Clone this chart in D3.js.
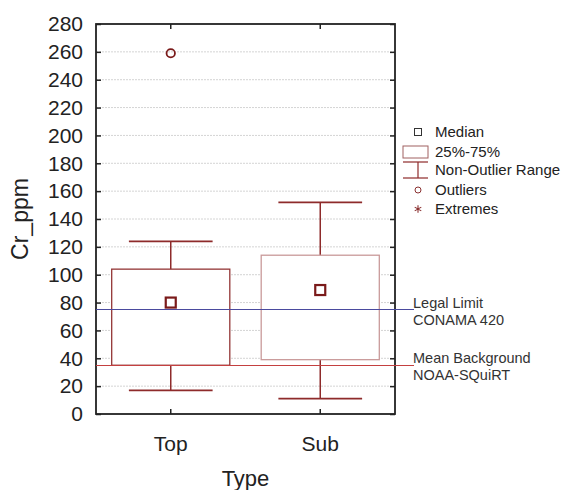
<!DOCTYPE html>
<html>
<head>
<meta charset="utf-8">
<script src="https://cdn.jsdelivr.net/npm/d3@7"></script>
<style>
  body { margin: 0; background: #fff; }
  text { font-family: "Liberation Sans", Arial, sans-serif; }
</style>
</head>
<body>
<script>
// box summary per category
var categories = ["Top", "Sub"];
var q1 = [35, 39];
var q3 = [104, 114];
var medians = [80, 89];
var whiskerLow = [17, 11];
var whiskerHigh = [124, 152];
var outliers = [[259], []];

// reference lines
var refValues = [75, 35];
var refLabels = [["Legal Limit", "CONAMA 420"], ["Mean Background", "NOAA-SQuiRT"]];
var refColors = ["#4a4a9e", "#c44040"];

var yTicks = [0, 20, 40, 60, 80, 100, 120, 140, 160, 180, 200, 220, 240, 260, 280];
var legendLabels = ["Median", "25%-75%", "Non-Outlier Range", "Outliers", "Extremes"];

var W = 574, H = 490;
// note: "top" is a reserved window prop, so plot edges get a p prefix
var pLeft = 96, pRight = 395, pTop = 24, pBottom = 414;
var dark = "#7a1a1a", red = "#8e2b2b";

var svg = d3.select("body").append("svg")
    .attr("width", W)
    .attr("height", H);

var x = d3.scaleBand().domain(categories).range([pLeft, pRight]);
var y = d3.scaleLinear().domain([0, 280]).range([pBottom, pTop]);

// grid
svg.append("g")
    .selectAll("line")
    .data(yTicks.filter(function(d) { return d > 0 && d < 280; }))
    .enter().append("line")
    .attr("x1", pLeft).attr("x2", pRight)
    .attr("y1", function(d) { return y(d); })
    .attr("y2", function(d) { return y(d); })
    .attr("stroke", "#d4d4d4")
    .attr("stroke-width", 1)
    .attr("stroke-dasharray", "2,1");

// axes (ticks inside)
var yAxisL = d3.axisLeft(y).tickValues(yTicks).tickSize(-5).tickPadding(13);
var gl = svg.append("g").attr("transform", "translate(" + pLeft + ",0)").call(yAxisL);
gl.select(".domain").remove();
gl.selectAll("text").style("font-size", "21px").attr("fill", "#222");

var gr = svg.append("g").attr("transform", "translate(" + pRight + ",0)")
    .call(d3.axisRight(y).tickValues(yTicks).tickSize(-5).tickFormat(""));
gr.select(".domain").remove();

var xAxis = d3.axisBottom(x).tickSize(-5).tickPadding(22);
var gb = svg.append("g").attr("transform", "translate(0," + pBottom + ")").call(xAxis);
gb.select(".domain").remove();
gb.selectAll("text").style("font-size", "21px").attr("fill", "#222");

var gt = svg.append("g").attr("transform", "translate(0," + pTop + ")")
    .call(d3.axisTop(x).tickSize(-5).tickFormat(""));
gt.select(".domain").remove();

svg.selectAll(".tick line").attr("stroke", "#222").attr("stroke-width", 1.5);

svg.append("rect")
    .attr("x", pLeft).attr("y", pTop)
    .attr("width", pRight - pLeft).attr("height", pBottom - pTop)
    .attr("fill", "none")
    .attr("stroke", "#222")
    .attr("stroke-width", 1.8);

// axis titles
svg.append("text")
    .attr("transform", "translate(28," + ((pTop + pBottom) / 2) + ") rotate(-90)")
    .attr("text-anchor", "middle")
    .style("font-size", "23px")
    .attr("fill", "#222")
    .text("Cr_ppm");

svg.append("text")
    .attr("x", (pLeft + pRight) / 2).attr("y", 486)
    .attr("text-anchor", "middle")
    .style("font-size", "22px")
    .attr("fill", "#222")
    .text("Type");

// boxes
var boxW = x.bandwidth() * 0.79;
var capW = x.bandwidth() * 0.56;
var boxes = svg.append("g").selectAll("g")
    .data(categories)
    .enter().append("g");

boxes.append("line")
    .attr("x1", function(d) { return x(d) + x.bandwidth() / 2; })
    .attr("x2", function(d) { return x(d) + x.bandwidth() / 2; })
    .attr("y1", function(d, i) { return y(whiskerLow[i]); })
    .attr("y2", function(d, i) { return y(whiskerHigh[i]); })
    .attr("stroke", red).attr("stroke-width", 1.5);

[whiskerLow, whiskerHigh].forEach(function(arr) {
    boxes.append("line")
        .attr("x1", function(d) { return x(d) + (x.bandwidth() - capW) / 2; })
        .attr("x2", function(d) { return x(d) + (x.bandwidth() + capW) / 2; })
        .attr("y1", function(d, i) { return y(arr[i]); })
        .attr("y2", function(d, i) { return y(arr[i]); })
        .attr("stroke", red).attr("stroke-width", 1.8);
});

boxes.append("rect")
    .attr("x", function(d) { return x(d) + (x.bandwidth() - boxW) / 2; })
    .attr("y", function(d, i) { return y(q3[i]); })
    .attr("width", boxW)
    .attr("height", function(d, i) { return y(q1[i]) - y(q3[i]); })
    .attr("fill", "#fff")
    .attr("stroke", function(d, i) { return i == 0 ? "#933535" : "#c99a9a"; })
    .attr("stroke-width", 1.3);

// reference lines over the boxes
refValues.forEach(function(v, i) {
    svg.append("line")
        .attr("x1", pLeft).attr("x2", 414)
        .attr("y1", y(v)).attr("y2", y(v))
        .attr("stroke", refColors[i]).attr("stroke-width", 1)
        .attr("shape-rendering", "crispEdges");
    svg.append("text")
        .attr("x", 413).attr("y", y(v) - 2)
        .style("font-size", "14.5px").attr("fill", "#333")
        .text(refLabels[i][0]);
    svg.append("text")
        .attr("x", 413).attr("y", y(v) + 15)
        .style("font-size", "14.5px").attr("fill", "#333")
        .text(refLabels[i][1]);
});

boxes.append("rect")
    .attr("x", function(d) { return x(d) + x.bandwidth() / 2 - 5; })
    .attr("y", function(d, i) { return y(medians[i]) - 5; })
    .attr("width", 10).attr("height", 10)
    .attr("fill", "none")
    .attr("stroke", dark).attr("stroke-width", 2.2);

boxes.each(function(d, i) {
    d3.select(this).selectAll("circle")
        .data(outliers[i])
        .enter().append("circle")
        .attr("cx", x(d) + x.bandwidth() / 2)
        .attr("cy", function(v) { return y(v); })
        .attr("r", 4.2)
        .attr("fill", "none")
        .attr("stroke", dark).attr("stroke-width", 1.8);
});

// legend
var lx = 418, ly = [132, 152, 170, 190, 209];
var legend = svg.append("g");
legend.selectAll("text")
    .data(legendLabels)
    .enter().append("text")
    .attr("x", 435)
    .attr("y", function(d, i) { return ly[i] + 5; })
    .style("font-size", "15px")
    .attr("fill", "#222")
    .text(function(d) { return d; });

legend.append("rect")
    .attr("x", lx - 3.5).attr("y", ly[0] - 3.5)
    .attr("width", 7).attr("height", 7)
    .attr("fill", "none").attr("stroke", "#333").attr("stroke-width", 1);
legend.append("rect")
    .attr("x", 403).attr("y", ly[1] - 6)
    .attr("width", 25).attr("height", 12)
    .attr("fill", "none").attr("stroke", "#a06060").attr("stroke-width", 1);
legend.append("line")
    .attr("x1", 403).attr("x2", 428).attr("y1", ly[2] - 8).attr("y2", ly[2] - 8)
    .attr("stroke", red).attr("stroke-width", 1.2);
legend.append("line")
    .attr("x1", 403).attr("x2", 428).attr("y1", ly[2] + 8).attr("y2", ly[2] + 8)
    .attr("stroke", red).attr("stroke-width", 1.2);
legend.append("line")
    .attr("x1", lx).attr("x2", lx).attr("y1", ly[2] - 8).attr("y2", ly[2] + 8)
    .attr("stroke", red).attr("stroke-width", 1.2);
legend.append("circle")
    .attr("cx", lx).attr("cy", ly[3]).attr("r", 3)
    .attr("fill", "none").attr("stroke", "#8a3030").attr("stroke-width", 1);
legend.append("path")
    .attr("d", d3.symbol().type(d3.symbolAsterisk).size(40)())
    .attr("transform", "translate(" + lx + "," + ly[4] + ")")
    .attr("fill", "none").attr("stroke", "#8a3030").attr("stroke-width", 1.1);
</script>
</body>
</html>
